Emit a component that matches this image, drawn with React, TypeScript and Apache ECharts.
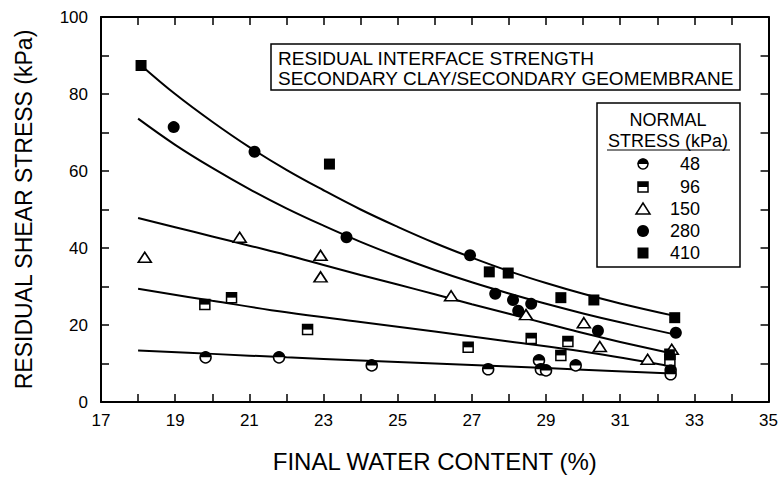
import React, { useEffect, useRef } from "react";
import * as echarts from "echarts";

// ---- data ----
const xTickValues = [17, 18, 19, 20, 21, 22, 23, 24, 25, 26, 27, 28, 29, 30, 31, 32, 33, 34, 35];
const xLabelValues = [17, 19, 21, 23, 25, 27, 29, 31, 33, 35];

const pts48 = [
  [19.82, 11.6], [21.8, 11.6], [24.3, 9.5], [27.44, 8.5], [28.81, 10.8],
  [28.86, 8.5], [29.0, 8.2], [29.8, 9.5], [32.36, 8.3], [32.36, 7.2],
];
const pts96 = [
  [19.8, 25.3], [20.52, 27.1], [22.57, 18.8], [26.9, 14.2], [28.6, 16.5],
  [29.59, 15.7], [29.4, 12.1], [32.34, 12.4], [32.34, 10.8],
];
const pts150 = [
  [18.18, 37.6], [20.74, 42.8], [22.92, 38.1], [22.92, 32.5], [26.44, 27.6],
  [28.46, 22.7], [30.02, 20.6], [30.45, 14.4], [31.74, 11.1], [32.39, 13.7],
];
const pts280 = [
  [18.96, 71.4], [21.14, 65.0], [23.62, 42.8], [26.95, 38.1], [27.63, 28.1],
  [28.11, 26.5], [28.6, 25.5], [28.25, 23.7], [30.4, 18.5], [32.5, 18.0],
];
const pts410 = [
  [18.08, 87.4], [23.16, 61.8], [27.47, 33.8], [27.98, 33.5], [29.4, 27.1],
  [30.29, 26.5], [32.47, 21.9],
];

// fitted curves
const curve410 = [
  [18.1, 87.3], [19, 80.0], [20, 72.8], [21, 66.2], [22, 60.3], [23, 55.0], [24, 50.0],
  [25, 45.5], [26, 41.3], [27, 37.5], [28, 34.0], [29, 30.9], [30, 28.1], [31, 25.6], [32.5, 22.3],
];
const curve280 = [
  [18, 73.6], [19, 66.8], [20, 60.8], [21, 55.3], [22, 50.3], [23, 45.8], [24, 41.6],
  [25, 37.8], [26, 34.3], [27, 31.1], [28, 28.2], [29, 25.5], [30, 23.0], [31, 20.7], [32.4, 17.7],
];
const curve150 = [
  [18, 47.8], [19, 45.4], [20, 43.0], [21, 40.6], [22, 38.2], [23, 35.6], [24, 33.0],
  [25, 30.5], [26, 28.0], [27, 25.4], [28, 22.9], [29, 20.4], [30, 17.9], [31, 15.6], [32.4, 12.6],
];
const curve96 = [
  [18, 29.4], [20, 26.3], [22, 23.3], [24, 20.8], [26, 18.3], [28, 15.7], [30, 13.1], [32.4, 9.2],
];
const curve48 = [
  [18, 13.4], [20, 12.5], [22, 11.6], [24, 10.8], [26, 10.0], [28, 9.2], [30, 8.4], [32.4, 7.4],
];

const legendLabels = ["48", "96", "150", "280", "410"];

const FONT = "'Liberation Sans', Arial, Helvetica, sans-serif";
const HALF_DISC = "path://M0,10 C0,4.5 4.5,0 10,0 C15.5,0 20,4.5 20,10 Z";

export default function App() {
  const ref = useRef<HTMLDivElement>(null);

  useEffect(() => {
    if (!ref.current) return;
    const chart = echarts.init(ref.current, null, { renderer: "svg" });

    const lineSeries = (data: number[][]) => ({
      type: "line",
      data,
      smooth: 0.4,
      showSymbol: false,
      symbol: "none",
      lineStyle: { color: "#000", width: 2 },
      z: 2,
      silent: true,
    });

    const ax = {
      axisLine: { show: true, onZero: false, lineStyle: { color: "#000", width: 2 } },
      splitLine: { show: false },
    };

    const legX = 643;
    const legYs = [164, 187, 209, 231, 253];

    const legendSymbols: any[] = [
      { type: "circle", shape: { cx: legX, cy: legYs[0], r: 5 }, style: { fill: "#fff", stroke: "#000", lineWidth: 1.5 } },
      { type: "sector", shape: { cx: legX, cy: legYs[0], r: 5.5, startAngle: Math.PI, endAngle: 2 * Math.PI }, style: { fill: "#000" } },
      { type: "rect", shape: { x: legX - 5, y: legYs[1] - 5, width: 10, height: 10 }, style: { fill: "#fff", stroke: "#000", lineWidth: 1.5 } },
      { type: "rect", shape: { x: legX - 5, y: legYs[1] - 5, width: 10, height: 5 }, style: { fill: "#000" } },
      { type: "polygon", shape: { points: [[legX, legYs[2] - 6], [legX + 7, legYs[2] + 5], [legX - 7, legYs[2] + 5]] }, style: { fill: "#fff", stroke: "#000", lineWidth: 1.5 } },
      { type: "circle", shape: { cx: legX, cy: legYs[3], r: 6 }, style: { fill: "#000" } },
      { type: "rect", shape: { x: legX - 5.5, y: legYs[4] - 5.5, width: 11, height: 11 }, style: { fill: "#000" } },
    ];

    const legendTexts = legendLabels.map((t, i) => ({
      type: "text",
      x: 700,
      y: legYs[i],
      style: { text: t, fill: "#000", font: `18px ${FONT}`, align: "right", verticalAlign: "middle" },
    }));

    const scatterBase = { opacity: 1 };

    chart.setOption({
      animation: false,
      backgroundColor: "#fff",
      grid: { left: 101, right: 12, top: 17, bottom: 73, containLabel: false },
      xAxis: [
        {
          type: "value",
          min: 17,
          max: 35,
          position: "bottom",
          ...ax,
          axisTick: { show: true, inside: true, length: 8, customValues: xTickValues, lineStyle: { color: "#000", width: 1.5 } },
          axisLabel: { show: true, customValues: xLabelValues, color: "#000", fontFamily: FONT, fontSize: 17, margin: 10 },
          name: "FINAL WATER CONTENT (%)",
          nameLocation: "middle",
          nameGap: 47,
          nameTextStyle: { color: "#000", fontFamily: FONT, fontSize: 24 },
        },
        {
          type: "value",
          min: 17,
          max: 35,
          position: "top",
          ...ax,
          axisTick: { show: true, inside: true, length: 8, customValues: xTickValues, lineStyle: { color: "#000", width: 1.5 } },
          axisLabel: { show: false },
        },
      ],
      yAxis: [
        {
          type: "value",
          min: 0,
          max: 100,
          interval: 10,
          position: "left",
          ...ax,
          axisTick: { show: true, inside: true, length: 8, lineStyle: { color: "#000", width: 1.5 } },
          axisLabel: {
            color: "#000",
            fontFamily: FONT,
            fontSize: 17,
            margin: 13,
            formatter: (v: number) => (v % 20 === 0 ? String(v) : ""),
          },
          name: "RESIDUAL SHEAR STRESS (kPa)",
          nameLocation: "middle",
          nameGap: 66,
          nameTextStyle: { color: "#000", fontFamily: FONT, fontSize: 23 },
        },
        {
          type: "value",
          min: 0,
          max: 100,
          interval: 10,
          position: "right",
          ...ax,
          axisTick: { show: true, inside: true, length: 8, lineStyle: { color: "#000", width: 1.5 } },
          axisLabel: { show: false },
        },
      ],
      series: [
        lineSeries(curve410),
        lineSeries(curve280),
        lineSeries(curve150),
        lineSeries(curve96),
        lineSeries(curve48),
        {
          type: "scatter",
          data: pts48,
          symbol: "circle",
          symbolSize: 11,
          itemStyle: { ...scatterBase, color: "#fff", borderColor: "#000", borderWidth: 1.5 },
          z: 5,
        },
        {
          type: "scatter",
          data: pts48,
          symbol: HALF_DISC,
          symbolSize: [11, 5.5],
          symbolOffset: [0, "-50%"],
          itemStyle: { ...scatterBase, color: "#000" },
          z: 6,
        },
        {
          type: "scatter",
          data: pts96,
          symbol: "rect",
          symbolSize: 10,
          itemStyle: { ...scatterBase, color: "#fff", borderColor: "#000", borderWidth: 1.5 },
          z: 5,
        },
        {
          type: "scatter",
          data: pts96,
          symbol: "rect",
          symbolSize: [10, 5],
          symbolOffset: [0, "-50%"],
          itemStyle: { ...scatterBase, color: "#000" },
          z: 6,
        },
        {
          type: "scatter",
          data: pts150,
          symbol: "triangle",
          symbolSize: [13, 10],
          itemStyle: { ...scatterBase, color: "#fff", borderColor: "#000", borderWidth: 1.6 },
          z: 5,
        },
        {
          type: "scatter",
          data: pts280,
          symbol: "circle",
          symbolSize: 12,
          itemStyle: { ...scatterBase, color: "#000" },
          z: 5,
        },
        {
          type: "scatter",
          data: pts410,
          symbol: "rect",
          symbolSize: 11,
          itemStyle: { ...scatterBase, color: "#000" },
          z: 5,
        },
      ],
      graphic: [
        {
          type: "rect",
          shape: { x: 271, y: 44, width: 469, height: 46 },
          style: { fill: "#fff", stroke: "#000", lineWidth: 1.5 },
          z: 10,
        },
        {
          type: "text",
          x: 278,
          y: 58,
          z: 11,
          style: { text: "RESIDUAL INTERFACE STRENGTH", fill: "#000", font: `19px ${FONT}`, verticalAlign: "middle" },
        },
        {
          type: "text",
          x: 278,
          y: 78,
          z: 11,
          style: { text: "SECONDARY CLAY/SECONDARY GEOMEMBRANE", fill: "#000", font: `19px ${FONT}`, verticalAlign: "middle" },
        },
        {
          type: "rect",
          shape: { x: 597, y: 103, width: 143, height: 164 },
          style: { fill: "#fff", stroke: "#000", lineWidth: 1.5 },
          z: 10,
        },
        {
          type: "text",
          x: 668,
          y: 120,
          z: 11,
          style: { text: "NORMAL", fill: "#000", font: `18px ${FONT}`, align: "center", verticalAlign: "middle" },
        },
        {
          type: "text",
          x: 668,
          y: 141,
          z: 11,
          style: { text: "STRESS (kPa)", fill: "#000", font: `18px ${FONT}`, align: "center", verticalAlign: "middle" },
        },
        {
          type: "line",
          shape: { x1: 607, y1: 150, x2: 730, y2: 150 },
          style: { stroke: "#000", lineWidth: 1.2 },
          z: 11,
        },
        ...legendSymbols.map((g) => ({ ...g, z: 11 })),
        ...legendTexts.map((g) => ({ ...g, z: 11 })),
      ],
    });

    return () => chart.dispose();
  }, []);

  return (
    <div
      ref={ref}
      style={{ position: "fixed", left: 0, top: 0, width: 781, height: 478, background: "#fff" }}
    />
  );
}
